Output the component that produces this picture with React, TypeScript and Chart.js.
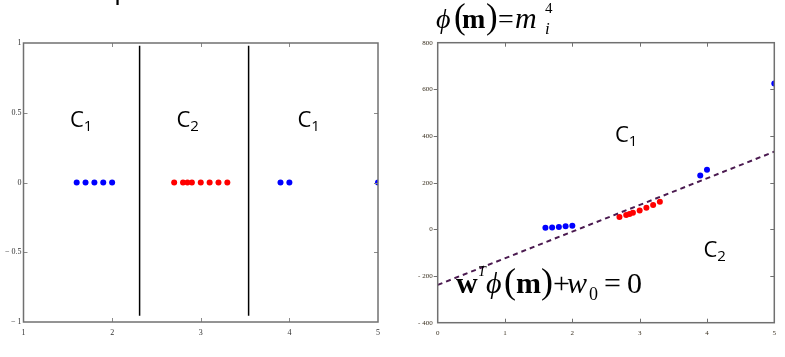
import React, { useEffect, useRef } from "react";
import { Chart, registerables } from "chart.js";

Chart.register(...registerables);

// ---------- data: left panel (1-D feature m) ----------
const leftBlueAX = [1.6, 1.7, 1.8, 1.9, 2.0];
const leftRedX = [2.7, 2.8, 2.85, 2.9, 3.0, 3.1, 3.2, 3.3];
const leftBlueBX = [3.9, 4.0, 5.0];
const leftLevel = 0;
const boundaryAX = [2.31, 2.31];
const boundaryBX = [3.54, 3.54];
const boundaryY = [0.98, -0.955];
const leftXTicks = [1, 2, 3, 4, 5];
const leftXLabels = ["1", "2", "3", "4", "5"];
const leftYTicks = [-1, -0.5, 0, 0.5, 1];
const leftYLabels = ["\u2212 1", "\u2212 0.5", "0", "0.5", "1"];

// ---------- data: right panel (m vs phi(m) = m^4) ----------
const rightBlueAX = [1.6, 1.7, 1.8, 1.9, 2.0];
const rightBlueAY = [6.55, 8.35, 10.5, 13.03, 16.0];
const rightRedX = [2.7, 2.8, 2.85, 2.9, 3.0, 3.1, 3.2, 3.3];
const rightRedY = [53.1, 61.5, 66.0, 70.7, 81.0, 92.4, 104.9, 118.6];
const rightBlueBX = [3.9, 4.0, 5.0];
const rightBlueBY = [231.3, 256.0, 625.0];
const decisionX = [0, 5];
const decisionY = [-238, 333];
const rightXTicks = [0, 1, 2, 3, 4, 5];
const rightXLabels = ["0", "1", "2", "3", "4", "5"];
const rightYTicks = [-400, -200, 0, 200, 400, 600, 800];
const rightYLabels = ["- 400", "- 200", "0", "200", "400", "600", "800"];

const toPts = (xs: number[], ys: number[] | number) =>
  xs.map((x, i) => ({ x, y: Array.isArray(ys) ? ys[i] : ys }));

const framePlugin = {
  id: "frame",
  afterDatasetsDraw(chart: any, _args: any, opts: any) {
    const { ctx, chartArea: a, scales } = chart;
    const L = 4;
    ctx.save();
    ctx.lineWidth = 1;
    ctx.strokeStyle = opts.tickColor;
    const xs = scales.x.ticks.map((t: any) => t.value).filter((v: number) => v > scales.x.min && v < scales.x.max);
    const ys = scales.y.ticks.map((t: any) => t.value).filter((v: number) => v > scales.y.min && v < scales.y.max);
    ctx.beginPath();
    xs.forEach((v: number) => {
      const p = Math.round(scales.x.getPixelForValue(v)) + 0.5;
      ctx.moveTo(p, a.top);
      ctx.lineTo(p, a.top + L);
      ctx.moveTo(p, a.bottom);
      ctx.lineTo(p, a.bottom - L);
    });
    ys.forEach((v: number) => {
      const p = Math.round(scales.y.getPixelForValue(v)) + 0.5;
      ctx.moveTo(a.right, p);
      ctx.lineTo(a.right - L, p);
      ctx.moveTo(a.left, p);
      ctx.lineTo(opts.leftOutward ? a.left - L : a.left + L, p);
    });
    ctx.stroke();
    ctx.strokeStyle = opts.frameColor;
    ctx.lineWidth = 1.5;
    ctx.strokeRect(a.left, a.top, a.right - a.left, a.bottom - a.top);
    ctx.restore();
  },
};

const serif = "Liberation Serif";
const sans = "Open Sans";

function axis(
  min: number,
  max: number,
  ticks: number[],
  labels: string[],
  size: number,
  color: string,
  padding: number,
  fit: (s: any) => void
) {
  return {
    type: "linear",
    min,
    max,
    afterBuildTicks: (s: any) => {
      s.ticks = ticks.map((v) => ({ value: v }));
    },
    afterFit: fit,
    grid: { display: false, drawTicks: false },
    border: { display: false },
    ticks: {
      autoSkip: false,
      maxRotation: 0,
      padding,
      color,
      font: { family: serif, size },
      callback: (v: number) => {
        const i = ticks.indexOf(v);
        return i >= 0 ? labels[i] : "";
      },
    },
  };
}

const dot = (data: any[], color: string) => ({
  type: "scatter",
  data,
  pointRadius: 3,
  pointHoverRadius: 3,
  pointBorderWidth: 0,
  backgroundColor: color,
  borderColor: color,
  clip: 0,
});

function leftConfig(): any {
  return {
    type: "scatter",
    data: {
      datasets: [
        dot(toPts(leftBlueAX, leftLevel), "#0000ff"),
        dot(toPts(leftRedX, leftLevel), "#ff0000"),
        dot(toPts(leftBlueBX, leftLevel), "#0000ff"),
        {
          type: "line",
          data: toPts(boundaryAX, boundaryY),
          borderColor: "#000",
          borderWidth: 1.5,
          pointRadius: 0,
          fill: false,
        },
        {
          type: "line",
          data: toPts(boundaryBX, boundaryY),
          borderColor: "#000",
          borderWidth: 1.5,
          pointRadius: 0,
          fill: false,
        },
      ],
    },
    options: {
      responsive: false,
      animation: false,
      events: [],
      layout: { padding: { top: 43, right: 14, left: 0, bottom: 0 } },
      scales: {
        x: axis(1, 5, leftXTicks, leftXLabels, 8, "#333", 6, (s: any) => {
          s.height = 35;
        }),
        y: axis(-1, 1, leftYTicks, leftYLabels, 8, "#333", 2, (s: any) => {
          s.width = 23.5;
        }),
      },
      plugins: {
        legend: { display: false },
        tooltip: { enabled: false },
        frame: { frameColor: "#707070", tickColor: "#8a8a8a", leftOutward: false },
      },
    },
    plugins: [framePlugin],
  };
}

function rightConfig(): any {
  return {
    type: "scatter",
    data: {
      datasets: [
        {
          type: "line",
          data: toPts(decisionX, decisionY),
          borderColor: "#4b1a50",
          borderWidth: 2,
          borderDash: [5, 4],
          pointRadius: 0,
          fill: false,
        },
        dot(toPts(rightBlueAX, rightBlueAY), "#0000ff"),
        dot(toPts(rightRedX, rightRedY), "#ff0000"),
        dot(toPts(rightBlueBX, rightBlueBY), "#0000ff"),
      ],
    },
    options: {
      responsive: false,
      animation: false,
      events: [],
      layout: { padding: { top: 42.7, right: 10.7, left: 0, bottom: 0 } },
      scales: {
        x: axis(0, 5, rightXTicks, rightXLabels, 7, "#3a3020", 6, (s: any) => {
          s.height = 34.3;
        }),
        y: axis(-400, 800, rightYTicks, rightYLabels, 7, "#3a3020", 5, (s: any) => {
          s.width = 45.7;
        }),
      },
      plugins: {
        legend: { display: false },
        tooltip: { enabled: false },
        frame: { frameColor: "#707070", tickColor: "#707070", leftOutward: true },
      },
    },
    plugins: [framePlugin],
  };
}

function Panel({ make, left, width }: { make: () => any; left: number; width: number }) {
  const ref = useRef<HTMLCanvasElement>(null);
  useEffect(() => {
    const chart = new Chart(ref.current as HTMLCanvasElement, make());
    return () => chart.destroy();
  }, []);
  return (
    <canvas
      ref={ref}
      width={width}
      height={357}
      style={{ position: "absolute", left, top: 0, width, height: 357 }}
    />
  );
}

function ClassLabel({ x, y, sub }: { x: number; y: number; sub: string }) {
  return (
    <text x={x} y={y} fontFamily={sans} fontSize={22} fill="#000">
      C
      <tspan fontSize={15} dy={3.5}>
        {sub}
      </tspan>
    </text>
  );
}

const PHI = "\u03D5";

export default function App() {
  useEffect(() => {
    document.body.style.margin = "0";
  }, []);
  return (
    <div
      style={{
        position: "fixed",
        left: 0,
        top: 0,
        width: 785,
        height: 357,
        background: "#fff",
        overflow: "hidden",
      }}
    >
      <Panel make={leftConfig} left={0} width={392} />
      <Panel make={rightConfig} left={392} width={393} />
      <svg
        width={785}
        height={357}
        style={{ position: "absolute", left: 0, top: 0, pointerEvents: "none" }}
      >
        <text x={114} y={-2} fontFamily={sans} fontSize={28} fill="#000">
          p
        </text>
        <ClassLabel x={70} y={127} sub="1" />
        <ClassLabel x={176.5} y={127} sub="2" />
        <ClassLabel x={297.5} y={127} sub="1" />
        <ClassLabel x={615} y={142} sub="1" />
        <ClassLabel x={703.5} y={257} sub="2" />

        <text y={28} fontFamily={serif} fontSize={28} fill="#000">
          <tspan x={436} fontStyle="italic">{PHI}</tspan>
          <tspan x={454} fontSize={35}>(</tspan>
          <tspan x={462} fontWeight="bold">m</tspan>
          <tspan x={486} fontSize={35}>)</tspan>
          <tspan x={498}>=</tspan>
          <tspan x={515} fontSize={30} fontStyle="italic">m</tspan>
        </text>
        <text x={545} y={13} fontFamily={serif} fontSize={15} fill="#000">
          4
        </text>
        <text x={545} y={34} fontFamily={serif} fontSize={17} fontStyle="italic" fill="#000">
          i
        </text>

        <text y={293} fontFamily={serif} fontSize={30} fill="#000">
          <tspan x={456} fontWeight="bold">w</tspan>
          <tspan x={486} fontStyle="italic">{PHI}</tspan>
          <tspan x={504} fontSize={36}>(</tspan>
          <tspan x={516} fontWeight="bold">m</tspan>
          <tspan x={541} fontSize={36}>)</tspan>
          <tspan x={553}>+</tspan>
          <tspan x={567} fontStyle="italic">w</tspan>
          <tspan x={604}>=</tspan>
          <tspan x={627}>0</tspan>
        </text>
        <text x={478} y={276} fontFamily={serif} fontSize={14} fontStyle="italic" fill="#000">
          T
        </text>
        <text x={589} y={300} fontFamily={serif} fontSize={18} fill="#000">
          0
        </text>
      </svg>
    </div>
  );
}
